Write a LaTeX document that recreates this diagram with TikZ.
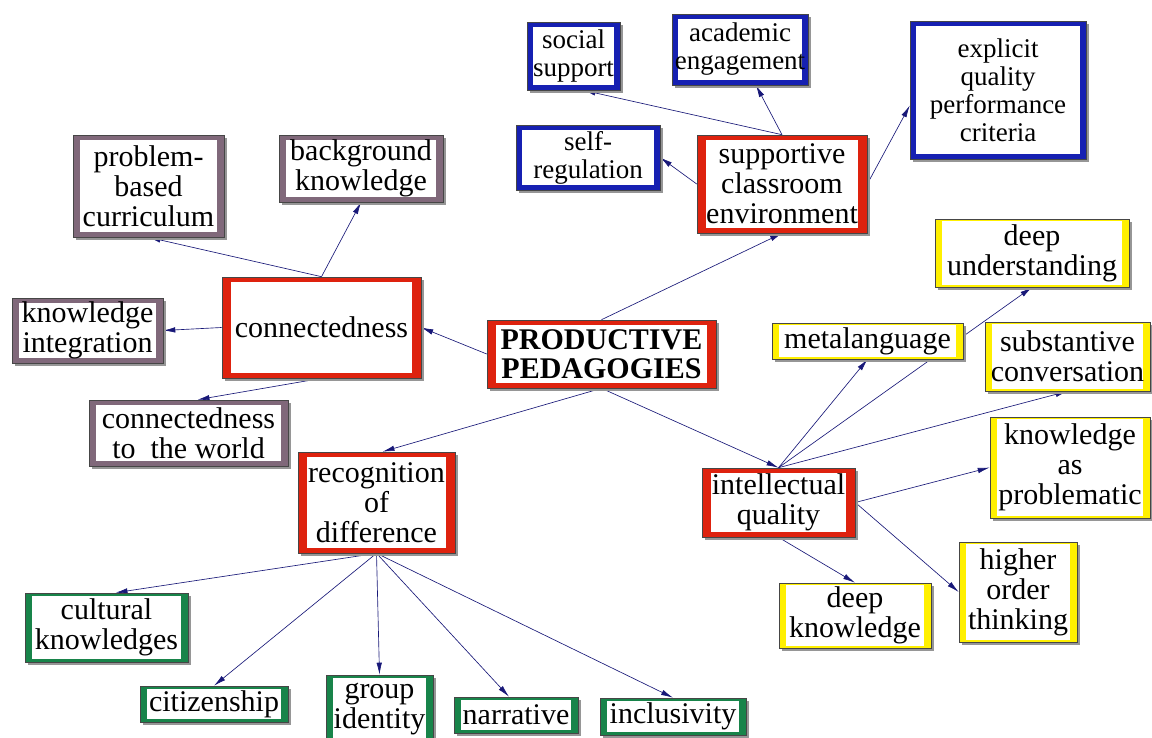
\documentclass[tikz,border=0pt]{standalone}
\usepackage{fontspec}
\setmainfont{Liberation Serif}
\usetikzlibrary{arrows.meta,shadows}
\definecolor{fred}{RGB}{222,34,14}
\definecolor{fblue}{RGB}{22,32,178}
\definecolor{fpurple}{RGB}{128,104,122}
\definecolor{fgreen}{RGB}{24,132,74}
\definecolor{fyellow}{RGB}{255,240,0}
\definecolor{outl}{RGB}{70,70,70}
\definecolor{shad}{RGB}{150,150,150}
\definecolor{navy}{RGB}{24,24,120}
\pgfdeclarelayer{bg}
\pgfsetlayers{bg,main}
\begin{document}
\begin{tikzpicture}[x=1pt,y=-1pt,
  box/.style n args={3}{draw=outl, line width=0.6pt, fill=#1, inner sep=0pt, align=center,
    font=\fontsize{30}{30}\selectfont,
    drop shadow={shadow xshift=3pt,shadow yshift=-3pt,fill=shad,opacity=1},
    path picture={\fill[white] ([xshift=#2,yshift=#3]path picture bounding box.south west) rectangle ([xshift=-#2,yshift=-#3]path picture bounding box.north east);}},
  redbox/.style={box={fred}{9pt}{5pt}},
  bluebox/.style={box={fblue}{6pt}{5pt}, font=\fontsize{27}{28}\selectfont},
  purplebox/.style={box={fpurple}{7pt}{5pt}},
  greenbox/.style={box={fgreen}{7pt}{3pt}},
  yellowbox/.style={box={fyellow}{7pt}{2pt}},
  conn/.style={draw=navy, line width=0.65pt, -{Latex[length=12pt,width=5.5pt]}}
]
\useasboundingbox (0,0) rectangle (1152,738);

% central
\node[redbox, minimum width=229pt, minimum height=68pt, font=\fontsize{30}{29}\selectfont\bfseries] (pp) at (601.5,354) {PRODUCTIVE\\PEDAGOGIES};

% supportive classroom environment
\node[redbox, minimum width=170pt, minimum height=98pt] (sce) at (782,184) {supportive\\classroom\\environment};
\node[bluebox, minimum width=93pt, minimum height=68pt] (ss) at (573.5,56) {social\\support};
\node[bluebox, minimum width=136pt, minimum height=71pt] (ae) at (740,49.5) {academic\\engagement};
\node[bluebox, minimum width=176pt, minimum height=138pt] (exp) at (998,90) {explicit\\quality\\performance\\criteria};
\node[bluebox, minimum width=144pt, minimum height=65pt] (sr) at (588,157.5) {self-\\regulation};

% connectedness
\node[redbox, minimum width=199pt, minimum height=101pt] (con) at (321.5,327.5) {connectedness};
\node[purplebox, minimum width=151pt, minimum height=102pt] (pbc) at (148.5,186) {problem-\\based\\curriculum};
\node[purplebox, minimum width=164pt, minimum height=67pt] (bk) at (361,168.5) {background\\knowledge};
\node[purplebox, minimum width=151pt, minimum height=65pt] (ki) at (87.5,330.5) {knowledge\\integration};
\node[purplebox, minimum width=199pt, minimum height=66pt] (ctw) at (188.5,433) {connectedness\\to\ \ the world};

% recognition of difference
\node[redbox, minimum width=157pt, minimum height=101pt] (rec) at (376.5,502.5) {recognition\\of\\difference};
\node[greenbox, minimum width=163pt, minimum height=69pt] (ck) at (106.5,627.5) {cultural\\knowledges};
\node[greenbox, minimum width=148pt, minimum height=36pt] (cit) at (214,704) {citizenship};
\node[greenbox, minimum width=107pt, minimum height=68pt] (gi) at (379.5,709) {group\\identity};
\node[greenbox, minimum width=124pt, minimum height=36pt] (nar) at (516,715) {narrative};
\node[greenbox, minimum width=146pt, minimum height=37pt] (inc) at (673,716.5) {inclusivity};

% intellectual quality
\node[redbox, minimum width=153pt, minimum height=69pt] (iq) at (778.5,502.5) {intellectual\\quality};
\node[yellowbox, minimum width=191pt, minimum height=36pt] (ml) at (867.5,341) {metalanguage};
\node[yellowbox, minimum width=194pt, minimum height=68pt] (du) at (1032,253) {deep\\understanding};
\node[yellowbox, minimum width=165pt, minimum height=69pt] (sc) at (1067.5,356.5) {substantive\\conversation};
\node[yellowbox, minimum width=160pt, minimum height=101pt] (kap) at (1070,467.5) {knowledge\\as\\problematic};
\node[yellowbox, minimum width=118pt, minimum height=100pt] (hot) at (1018,592) {higher\\order\\thinking};
\node[yellowbox, minimum width=152pt, minimum height=65pt] (dk) at (855,615.5) {deep\\knowledge};

\begin{pgfonlayer}{bg}
  \draw[conn] (pp.north) -- (sce.south);
  \draw[conn] (pp.west) -- (con.east);
  \draw[conn] (pp.south) -- ([xshift=6pt]rec.north);
  \draw[conn] (pp.south) -- (iq.north);

  \draw[conn] (sce.north) -- ([xshift=10pt]ss.south);
  \draw[conn] (sce.north) -- ([xshift=16pt]ae.south);
  \draw[conn] (sce.west) -- (sr.east);
  \draw[conn] (sce.east) -- (exp.190);

  \draw[conn] (con.north) -- (pbc.south);
  \draw[conn] (con.north) -- (bk.south);
  \draw[conn] (con.west) -- (ki.east);
  \draw[conn] (con.south) -- ([xshift=9pt]ctw.north);

  \draw[conn] (rec.south) -- ([xshift=9pt]ck.north);
  \draw[conn] (rec.south) -- (cit.north);
  \draw[conn] (rec.south) -- (gi.north);
  \draw[conn] (rec.south) -- ([xshift=-7pt]nar.north);
  \draw[conn] (rec.south) -- (inc.north);

  \draw[conn] (iq.north) -- (ml.south);
  \draw[conn] (iq.north) -- (du.south);
  \draw[conn] (iq.north) -- (sc.south);
  \draw[conn] (iq.east) -- (kap.west);
  \draw[conn] (iq.east) -- (hot.west);
  \draw[conn] (iq.south) -- (dk.north);
\end{pgfonlayer}
\end{tikzpicture}
\end{document}
